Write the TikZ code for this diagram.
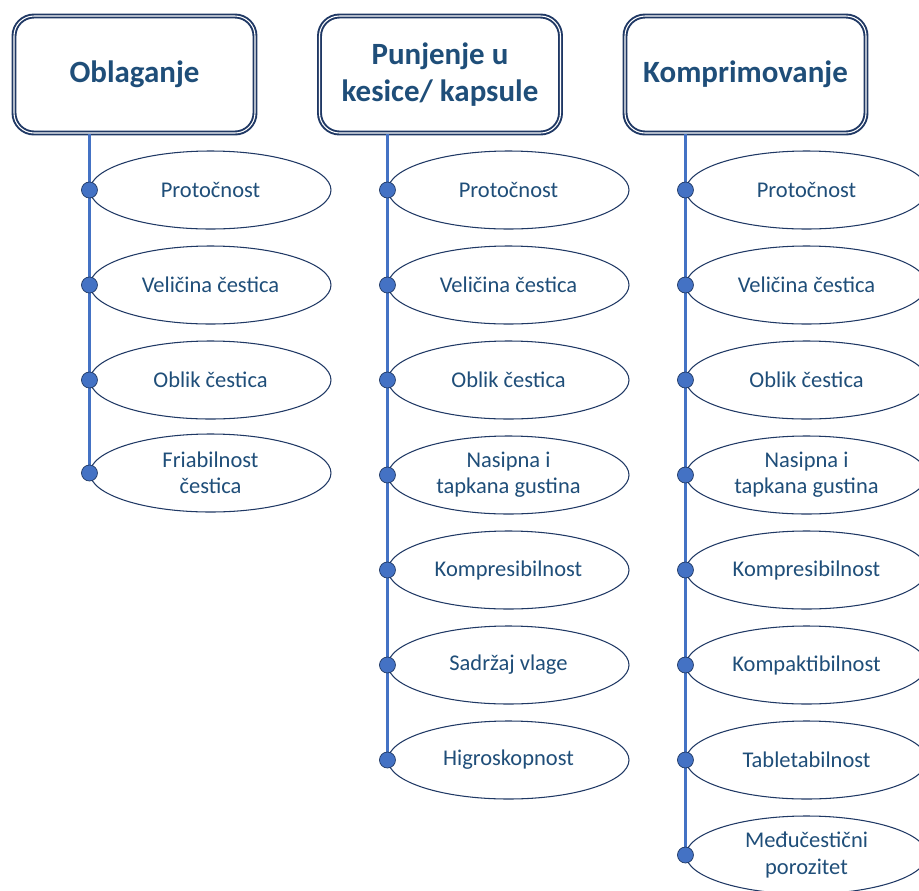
\documentclass[tikz,border=0pt]{standalone}
\usepackage{fontspec}
\setmainfont{Carlito}
\usetikzlibrary{shapes.geometric,shadows}

\definecolor{navy}{RGB}{31,56,100}
\definecolor{txtblue}{RGB}{31,78,121}
\definecolor{spineblue}{RGB}{68,114,196}

\begin{document}
\begin{tikzpicture}[
headbox/.style={rectangle, rounded corners=0.4cm, draw=navy, double=white, double distance=0.6pt, line width=1.1pt, fill=white, minimum width=4.82cm, minimum height=2.34cm, align=center, text=txtblue, font=\fontsize{17.6}{21}\selectfont\bfseries, drop shadow={opacity=0.25, shadow xshift=0.03cm, shadow yshift=-0.03cm}},
itemnode/.style={ellipse, draw=navy, line width=0.6pt, fill=white, minimum width=4.82cm, minimum height=1.56cm, inner sep=0pt, align=center, text=txtblue, font=\fontsize{12.8}{15}\selectfont},
dotnode/.style={circle, draw=navy, fill=spineblue, thin, minimum size=0.32cm, inner sep=0pt},
spine/.style={spineblue, line width=1.7pt}
]
\useasboundingbox (0,0) rectangle (18.38,-17.8);

\node [headbox] (h1) at (2.69,-1.49) {Oblaganje};
\node [headbox] (h2) at (8.8,-1.49) {Punjenje u\\kesice/ kapsule};
\node [headbox] (h3) at (14.91,-1.49) {Komprimovanje};

    % Oblaganje
    \node [itemnode] (a1) at (4.21,-3.8) {Protočnost};
    \node [itemnode] (a2) at (4.21,-5.7) {Veličina čestica};
    \node [itemnode] (a3) at (4.21,-7.6) {Oblik čestica};
    \node [itemnode] (a4) at (4.21,-9.46) {Friabilnost\\čestica};

    % Punjenje u kesice/ kapsule
    \node [itemnode] (b1) at (10.17,-3.8) {Protočnost};
    \node [itemnode] (b2) at (10.17,-5.7) {Veličina čestica};
    \node [itemnode] (b3) at (10.17,-7.6) {Oblik čestica};
    \node [itemnode] (b4) at (10.17,-9.5) {Nasipna i\\tapkana gustina};
    \node [itemnode] (b5) at (10.17,-11.4) {Kompresibilnost};
    \node [itemnode] (b6) at (10.17,-13.3) {Sadržaj vlage};
    \node [itemnode] (b7) at (10.17,-15.2) {Higroskopnost};

    % Komprimovanje
    \node [itemnode] (c1) at (16.13,-3.8) {Protočnost};
    \node [itemnode] (c2) at (16.13,-5.7) {Veličina čestica};
    \node [itemnode] (c3) at (16.13,-7.6) {Oblik čestica};
    \node [itemnode] (c4) at (16.13,-9.5) {Nasipna i\\tapkana gustina};
    \node [itemnode] (c5) at (16.13,-11.4) {Kompresibilnost};
    \node [itemnode] (c6) at (16.13,-13.3) {Kompaktibilnost};
    \node [itemnode] (c7) at (16.13,-15.2) {Tabletabilnost};
    \node [itemnode] (c8) at (16.13,-17.1) {Međučestični\\porozitet};

    \draw [spine] (a1.west |- h1.south) -- (a4.west);
    \draw [spine] (b1.west |- h2.south) -- (b7.west);
    \draw [spine] (c1.west |- h3.south) -- (c8.west);

    \foreach \n in {a1,a2,a3,a4,b1,b2,b3,b4,b5,b6,b7,c1,c2,c3,c4,c5,c6,c7,c8}
        \node [dotnode] (dot-\n) at (\n.west) {};
\end{tikzpicture}
\end{document}
